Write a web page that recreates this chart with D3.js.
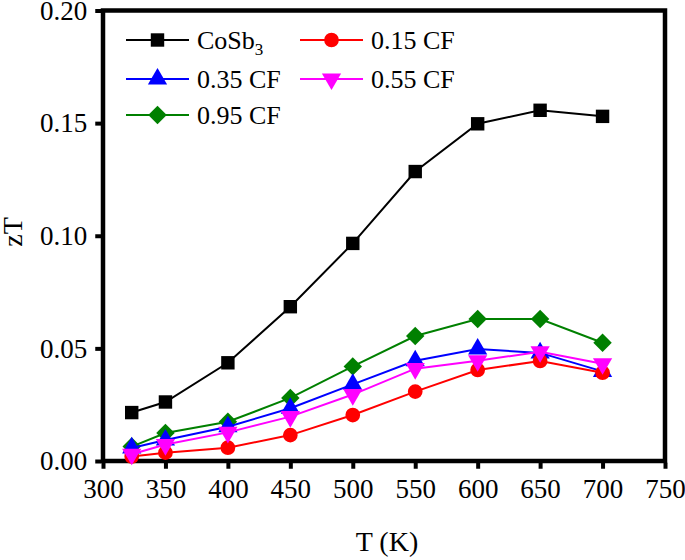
<!DOCTYPE html>
<html><head><meta charset="utf-8">
<script src="https://cdn.jsdelivr.net/npm/d3@7"></script>
<style>
html,body{margin:0;padding:0;background:#fff;}
svg{display:block;}
text{font-family:"Liberation Serif","Times New Roman",serif;fill:#000;}
</style></head>
<body>
<svg id="chart" width="685" height="560"></svg>
<script>
const temps = [323, 350, 400, 450, 500, 550, 600, 650, 700];
const cosb3 = [0.0215, 0.0262, 0.0436, 0.0685, 0.0966, 0.1285, 0.1497, 0.1557, 0.1530];
const cf015 = [0.0020, 0.0037, 0.0059, 0.0115, 0.0204, 0.0308, 0.0404, 0.0444, 0.0392];
const cf035 = [0.0058, 0.0093, 0.0152, 0.0234, 0.0340, 0.0445, 0.0497, 0.0480, 0.0398];
const cf055 = [0.0030, 0.0073, 0.0127, 0.0197, 0.0295, 0.0410, 0.0445, 0.0485, 0.0432];
const cf095 = [0.0064, 0.0124, 0.0174, 0.0280, 0.0420, 0.0555, 0.0630, 0.0630, 0.0525];
const seriesNames = ["CoSb3", "0.15 CF", "0.35 CF", "0.55 CF", "0.95 CF"];
const seriesColors = ["#000000", "#ff0000", "#0000ff", "#ff00ff", "#008000"];
const seriesSymbols = ["square", "circle", "triangle", "triangleDown", "diamond"];
const xTicks = [300, 350, 400, 450, 500, 550, 600, 650, 700, 750];
const yTicks = [0.00, 0.05, 0.10, 0.15, 0.20];

const seriesValues = [cosb3, cf015, cf035, cf055, cf095];
const svg = d3.select("#chart");
const x = d3.scaleLinear().domain([300, 750]).range([103, 665]);
const y = d3.scaleLinear().domain([0, 0.20]).range([461, 10.5]);

// frame
const frameW = 4.5;
svg.append("rect").attr("x", x(300)).attr("y", y(0.20))
  .attr("width", x(750) - x(300)).attr("height", y(0) - y(0.20))
  .attr("fill", "none").attr("stroke", "#000").attr("stroke-width", frameW);

const xAxis = d3.axisBottom(x).tickValues(xTicks).tickFormat(d3.format("d")).tickSize(6).tickPadding(10);
const gx = svg.append("g").attr("transform", `translate(0,${y(0) + frameW/2 - 0.5})`).call(xAxis);
gx.select(".domain").remove();
gx.selectAll(".tick line").attr("stroke", "#000").attr("stroke-width", 4);
gx.selectAll(".tick text").attr("font-size", 27).attr("font-family", "Liberation Serif").attr("dy", "0.71em");

const yAxis = d3.axisLeft(y).tickValues(yTicks).tickFormat(d3.format(".2f")).tickSize(6).tickPadding(8);
const gy = svg.append("g").attr("transform", `translate(${x(300) - frameW/2 + 0.5},0)`).call(yAxis);
gy.select(".domain").remove();
gy.selectAll(".tick line").attr("stroke", "#000").attr("stroke-width", 4);
gy.selectAll(".tick text").attr("font-size", 27).attr("font-family", "Liberation Serif");

// axis titles
svg.append("text").attr("x", 387).attr("y", 551).attr("text-anchor", "middle")
  .attr("font-size", 28).text("T (K)");
svg.append("text").attr("transform", "translate(22,232) rotate(-90)").attr("text-anchor", "middle")
  .attr("font-size", 28).text("zT");

function symbolPath(kind) {
  const map = {
    square: d3.symbol().type(d3.symbolSquare).size(180),
    circle: d3.symbol().type(d3.symbolCircle).size(170),
    triangle: d3.symbol().type(d3.symbolTriangle).size(160),
    triangleDown: d3.symbol().type(d3.symbolTriangle).size(160),
    diamond: d3.symbol().type(d3.symbolSquare).size(170)
  };
  return map[kind]();
}
function symbolTransform(kind, px, py) {
  if (kind === "triangleDown") return `translate(${px},${py}) rotate(180)`;
  if (kind === "diamond") return `translate(${px},${py}) rotate(45)`;
  return `translate(${px},${py})`;
}

const line = d3.line().x((d, i) => x(temps[i])).y(d => y(d));
const order = [0, 4, 2, 1, 3];
order.forEach(k => {
  const g = svg.append("g");
  g.append("path").attr("d", line(seriesValues[k])).attr("fill", "none")
    .attr("stroke", seriesColors[k]).attr("stroke-width", 2);
  g.selectAll("path.m").data(seriesValues[k]).join("path").attr("class", "m")
    .attr("d", symbolPath(seriesSymbols[k]))
    .attr("transform", (d, i) => symbolTransform(seriesSymbols[k], x(temps[i]), y(d)))
    .attr("fill", seriesColors[k]);
});

// legend
const legendPos = [
  {lx: 126, ly: 40}, {lx: 300, ly: 40},
  {lx: 126, ly: 79}, {lx: 300, ly: 79},
  {lx: 126, ly: 115}
];
const legendOrder = [0, 1, 2, 3, 4];
legendOrder.forEach((k, j) => {
  const p = legendPos[j];
  const g = svg.append("g").attr("transform", `translate(${p.lx},${p.ly})`);
  g.append("line").attr("x1", 0).attr("x2", 63).attr("y1", 0).attr("y2", 0)
    .attr("stroke", seriesColors[k]).attr("stroke-width", 2);
  g.append("path").attr("d", symbolPath(seriesSymbols[k]))
    .attr("transform", symbolTransform(seriesSymbols[k], 31.5, 0))
    .attr("fill", seriesColors[k]);
  const t = g.append("text").attr("x", 71).attr("y", 9).attr("font-size", 26);
  if (seriesNames[k] === "CoSb3") {
    t.append("tspan").text("CoSb");
    t.append("tspan").attr("font-size", 17).attr("dy", 6).text("3");
  } else {
    t.text(seriesNames[k]);
  }
});
</script>
</body></html>
